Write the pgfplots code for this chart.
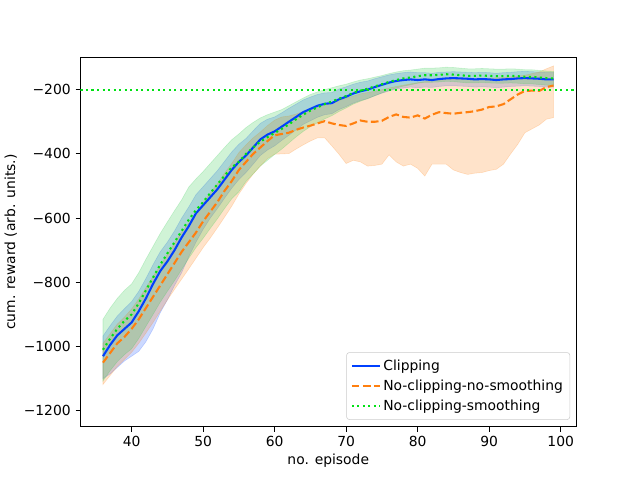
\documentclass[border=0pt]{standalone}
\usepackage{pgfplots}
\pgfplotsset{compat=1.18}
\usepackage{pgfplotstable}
\usepgfplotslibrary{fillbetween}
\usepackage{fontspec}
\setmainfont{DejaVu Sans}
\definecolor{cblue}{RGB}{0,64,255}
\definecolor{corange}{RGB}{255,127,14}
\definecolor{cgreen}{RGB}{0,225,20}
\definecolor{cgfill}{RGB}{40,200,70}
\pgfplotstableread{
x m lo hi
36 -1030 -1100 -967
37 -995 -1085 -935
38 -965 -1065 -905
39 -945 -1045 -882
40 -925 -1030 -860
41 -890 -1015 -828
42 -850 -985 -788
43 -805 -945 -745
44 -765 -895 -705
45 -735 -855 -675
46 -700 -810 -640
47 -660 -770 -600
48 -625 -720 -565
49 -585 -675 -527
50 -560 -635 -502
51 -535 -600 -477
52 -510 -570 -452
53 -480 -538 -423
54 -450 -507 -394
55 -425 -480 -370
56 -405 -458 -352
57 -380 -432 -328
58 -355 -405 -305
59 -340 -388 -292
60 -330 -375 -285
61 -315 -358 -272
62 -300 -342 -258
63 -285 -325 -245
64 -270 -308 -232
65 -260 -297 -223
66 -250 -286 -215
67 -244 -278 -210
68 -242 -275 -209
69 -230 -262 -198
70 -222 -253 -191
71 -212 -242 -183
72 -205 -234 -177
73 -200 -228 -173
74 -192 -219 -166
75 -185 -211 -160
76 -178 -204 -154
77 -173 -198 -150
78 -170 -195 -147
79 -168 -192 -145
80 -170 -194 -147
81 -168 -192 -147
82 -170 -193 -149
83 -167 -190 -146
84 -165 -188 -145
85 -164 -188 -144
86 -165 -189 -145
87 -166 -190 -146
88 -168 -192 -147
89 -167 -191 -146
90 -168 -192 -147
91 -170 -194 -149
92 -168 -192 -147
93 -167 -190 -146
94 -165 -189 -144
95 -164 -188 -143
96 -165 -189 -144
97 -166 -190 -145
98 -168 -192 -146
99 -168 -192 -146
}\clipdata
\pgfplotstableread{
x m lo hi
36 -1050 -1118 -990
37 -1020 -1090 -960
38 -990 -1062 -930
39 -970 -1040 -908
40 -945 -1018 -883
41 -915 -990 -852
42 -880 -958 -817
43 -845 -925 -782
44 -810 -890 -748
45 -775 -855 -713
46 -740 -822 -678
47 -705 -790 -643
48 -675 -758 -615
49 -645 -725 -586
50 -610 -692 -552
51 -580 -662 -522
52 -550 -630 -493
53 -515 -597 -460
54 -485 -563 -430
55 -450 -525 -396
56 -425 -492 -372
57 -400 -463 -350
58 -380 -438 -332
59 -360 -415 -312
60 -342 -401 -295
61 -338 -400 -285
62 -334 -399 -282
63 -325 -385 -276
64 -318 -372 -268
65 -312 -360 -262
66 -305 -350 -255
67 -298 -350 -248
68 -305 -375 -242
69 -310 -401 -234
70 -313 -430 -226
71 -305 -420 -220
72 -296 -425 -213
73 -300 -438 -209
74 -300 -436 -205
75 -297 -432 -200
76 -285 -403 -195
77 -277 -425 -190
78 -285 -438 -186
79 -287 -432 -182
80 -280 -445 -178
81 -290 -469 -175
82 -278 -432 -172
83 -270 -432 -170
84 -273 -432 -169
85 -275 -450 -168
86 -272 -458 -167
87 -270 -464 -167
88 -267 -460 -166
89 -262 -458 -165
90 -254 -452 -165
91 -252 -448 -163
92 -245 -432 -162
93 -230 -400 -160
94 -215 -370 -158
95 -204 -334 -155
96 -203 -322 -150
97 -204 -310 -145
98 -192 -292 -135
99 -187 -287 -126
}\noclipdata
\pgfplotstableread{
x m lo hi
36 -1010 -1107 -915
37 -975 -1075 -880
38 -945 -1047 -850
39 -920 -1025 -825
40 -900 -1007 -805
41 -865 -975 -770
42 -825 -937 -728
43 -785 -900 -688
44 -745 -862 -648
45 -710 -828 -612
46 -675 -795 -577
47 -640 -760 -543
48 -605 -725 -503
49 -575 -692 -478
50 -550 -663 -455
51 -522 -632 -430
52 -495 -602 -405
53 -468 -570 -380
54 -442 -540 -356
55 -425 -518 -338
56 -400 -486 -318
57 -380 -462 -302
58 -362 -438 -288
59 -348 -420 -278
60 -335 -402 -270
61 -322 -385 -262
62 -308 -366 -250
63 -292 -347 -238
64 -278 -330 -226
65 -265 -315 -215
66 -255 -303 -207
67 -245 -291 -200
68 -237 -281 -194
69 -228 -268 -188
70 -220 -257 -183
71 -210 -245 -176
72 -203 -236 -170
73 -197 -228 -166
74 -190 -219 -161
75 -183 -210 -156
76 -176 -202 -150
77 -170 -195 -145
78 -165 -189 -141
79 -162 -185 -139
80 -158 -180 -136
81 -155 -177 -133
82 -155 -177 -133
83 -154 -176 -132
84 -152 -174 -130
85 -153 -175 -131
86 -155 -177 -133
87 -157 -179 -135
88 -157 -179 -135
89 -156 -178 -134
90 -157 -179 -135
91 -158 -180 -136
92 -158 -180 -136
93 -157 -179 -135
94 -158 -180 -136
95 -160 -182 -138
96 -160 -182 -138
97 -162 -184 -140
98 -164 -186 -142
99 -165 -187 -143
}\smoothdata
\begin{document}
\begin{tikzpicture}
\begin{axis}[
  scale only axis,
  width=357.12pt, height=266.112pt,
  xmin=32.85, xmax=102.15,
  ymin=-1250, ymax=-100,
  axis line style={line width=0.8pt},
  tick style={line width=0.8pt, black},
  tick align=outside,
  major tick length=3.5pt,
  xtick pos=bottom, ytick pos=left,
  xtick={40,50,60,70,80,90,100},
  xticklabels={40,50,60,70,80,90,100},
  ytick={-1200,-1000,-800,-600,-400,-200},
  yticklabels={−1200,−1000,−800,−600,−400,−200},
  tick label style={font=\fontsize{10}{12}\selectfont},
  xlabel={no. episode},
  ylabel={cum. reward (arb. units.)},
  label style={font=\fontsize{10}{12}\selectfont},
  xlabel style={yshift=2pt},
  ylabel style={yshift=-2pt},
  legend cell align=left,
  legend style={at={(0.988,0.019)}, anchor=south east,
    draw=black!20, rounded corners=2pt, fill=white, fill opacity=0.8, text opacity=1,
    font=\fontsize{10}{12}\selectfont, row sep=1.5pt, inner sep=3pt},
  legend image code/.code={\draw[#1] (0pt,0pt) -- (20pt,0pt);},
]
% bands
\addplot[draw=none, name path=bhi, forget plot] table[x=x,y=hi]{\clipdata};
\addplot[draw=none, name path=blo, forget plot] table[x=x,y=lo]{\clipdata};
\addplot[fill=cblue, draw=cblue, opacity=0.2, forget plot] fill between[of=bhi and blo];
\addplot[draw=none, name path=ohi, forget plot] table[x=x,y=hi]{\noclipdata};
\addplot[draw=none, name path=olo, forget plot] table[x=x,y=lo]{\noclipdata};
\addplot[fill=corange, draw=corange, opacity=0.22, forget plot] fill between[of=ohi and olo];
\addplot[draw=none, name path=ghi, forget plot] table[x=x,y=hi]{\smoothdata};
\addplot[draw=none, name path=glo, forget plot] table[x=x,y=lo]{\smoothdata};
\addplot[fill=cgfill, draw=cgfill, opacity=0.22, forget plot] fill between[of=ghi and glo];
% lines
\addplot[cblue, line width=1.5pt, line join=round] table[x=x,y=m]{\clipdata};
\addlegendentry{Clipping}
\addplot[corange, line width=1.5pt, dash pattern=on 5.55pt off 2.4pt] table[x=x,y=m]{\noclipdata};
\addlegendentry{No-clipping-no-smoothing}
\addplot[cgreen, line width=1.5pt, dash pattern=on 1.5pt off 2.475pt] table[x=x,y=m]{\smoothdata};
\addlegendentry{No-clipping-smoothing}
\addplot[cgreen, line width=1.5pt, dash pattern=on 1.5pt off 2.475pt, forget plot] coordinates {(32.85,-200) (102.15,-200)};
\end{axis}
\path[use as bounding box] ([xshift=-57.6pt,yshift=-38.016pt]current axis.south west) rectangle ([xshift=46.08pt,yshift=41.472pt]current axis.north east);
\end{tikzpicture}
\end{document}
